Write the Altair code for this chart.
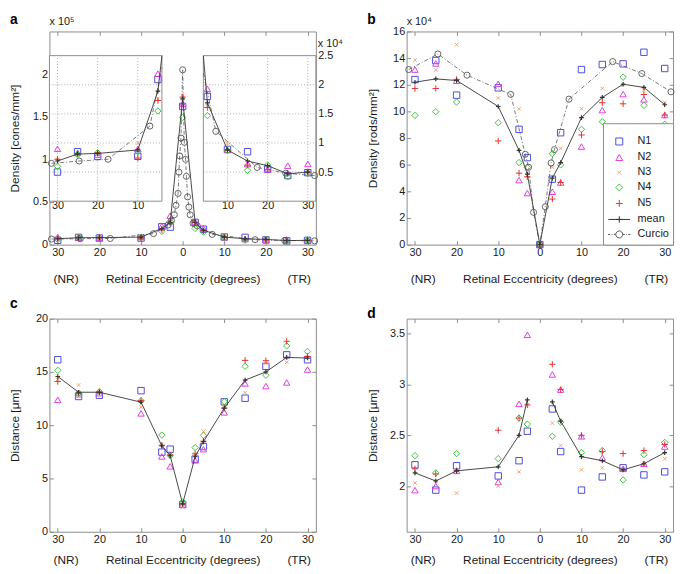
import altair as alt
import pandas as pd

# ---------------- data ----------------
ECC = [-30, -25, -20, -10, -5, -3, 0, 3, 5, 10, 15, 20, 25, 30]
ECC_D = [-30, -25, -20, -10, -5, -3, 3, 5, 10, 15, 20, 25, 30]
SERIES = ["N1", "N2", "N3", "N4", "N5"]

# (a) cone density, units of 10^4 cones/mm^2
A_N1 = [0.50, 0.85, 0.77, 0.77, 2.09, 2.05, 16.2, 2.6, 1.80, 0.89, 0.85, 0.55, 0.44, 0.49]
A_N2 = [0.90, 0.83, 0.80, 0.90, 2.19, 3.4, 16.5, 2.7, 1.93, 0.88, 0.64, 0.55, 0.61, 0.64]
A_N3 = [0.72, 0.80, 0.85, 1.00, 1.75, 2.6, 17.5, 2.5, 1.63, 1.00, 0.60, 0.60, 0.46, 0.50]
A_N4 = [0.60, 0.80, 0.83, 0.85, 1.55, 2.7, 14.9, 1.9, 1.47, 0.87, 0.53, 0.62, 0.42, 0.48]
A_N5 = [0.72, 0.82, 0.83, 0.74, 1.73, 2.5, 17.3, 2.6, 1.61, 0.88, 0.62, 0.54, 0.48, 0.50]
A_MEAN = [0.69, 0.81, 0.82, 0.88, 1.89, 2.6, 17.1, 2.6, 1.69, 0.88, 0.69, 0.61, 0.47, 0.50]
A_CUR_ECC = [-31.5, -24.6, -17.4, -7.0, -3.5, -2.7, -2.0, -1.6, -1.1, -0.9, -0.7, -0.4, 0.0,
             0.4, 0.7, 0.9, 1.2, 1.5, 1.8, 2.5, 3.5, 7.1, 17.4, 24.5, 31.7]
A_CUR = [0.65, 0.69, 0.72, 1.29, 2.3, 2.8, 3.5, 4.6, 6.0, 8.5, 10.4, 12.5, 20.5,
         12.0, 10.0, 8.0, 5.6, 4.4, 3.5, 2.5, 2.2, 1.2, 0.58, 0.48, 0.44]

# (b) rod density, units of 10^4 rods/mm^2
B_N1 = [12.39, 13.82, 11.22, 11.77, 8.65, 6.53, 0, 4.91, 8.40, 13.14, 13.52, 13.57, 14.44, 13.22]
B_N2 = [13.14, 13.60, 12.30, 12.07, 4.84, 3.87, 0, 3.97, 4.66, 7.36, 10.10, 11.30, 10.90, 9.73]
B_N3 = [13.84, 13.10, 15.01, 11.00, 10.20, 5.16, 0, 5.82, 7.23, 10.20, 11.72, 12.00, 11.60, 10.67]
B_N4 = [9.70, 9.98, 10.70, 9.15, 6.16, 5.80, 0, 6.83, 5.99, 8.65, 9.23, 12.57, 10.45, 9.03]
B_N5 = [11.72, 11.72, 12.40, 7.78, 5.36, 5.09, 0, 3.42, 4.66, 8.23, 10.65, 10.57, 11.27, 9.73]
B_MEAN = [12.19, 12.44, 12.32, 10.37, 7.08, 5.29, 0, 4.99, 6.16, 9.53, 11.05, 12.04, 11.80, 10.50]
B_CUR_ECC = [-31.5, -24.5, -17.5, -7.0, -3.5, -2.7, -1.5, 0.0, 1.3, 2.7, 3.5, 7.0, 17.5, 24.5, 31.5]
B_CUR = [13.14, 14.31, 12.72, 11.27, 6.78, 5.81, 2.42, 0.0, 2.84, 6.13, 7.13, 10.92, 13.74, 12.84, 11.47]

# (c) distance, um
C_N1 = [16.14, 12.69, 12.81, 13.24, 7.47, 7.75, 2.56, 6.82, 7.99, 12.19, 12.53, 15.52, 16.60, 16.14]
C_N2 = [12.38, 12.90, 13.00, 11.11, 7.07, 6.14, 2.56, 6.70, 7.75, 11.20, 13.92, 13.67, 14.01, 15.22]
C_N3 = [14.30, 13.77, 13.10, 11.70, 8.20, 7.10, 2.31, 7.30, 9.41, 11.90, 13.06, 15.80, 15.90, 16.40]
C_N4 = [15.15, 13.00, 13.15, 12.30, 9.07, 7.16, 2.80, 7.90, 9.04, 12.20, 15.52, 14.69, 17.44, 16.91]
C_N5 = [14.10, 13.00, 13.10, 12.30, 8.12, 7.20, 2.60, 7.31, 8.50, 11.60, 16.08, 16.05, 17.87, 16.45]
C_MEAN = [14.57, 13.09, 13.09, 12.16, 8.06, 7.13, 2.62, 7.04, 8.46, 11.60, 14.23, 15.00, 16.36, 16.30]

# (d) distance, um (no foveal centre value)
D_N1 = [2.21, 1.96, 2.20, 2.10, 2.25, 2.54, 2.76, 2.34, 1.96, 2.09, 2.18, 2.11, 2.14]
D_N2 = [1.96, 2.00, 2.15, 2.04, 2.81, 3.49, 3.10, 2.95, 2.49, 2.28, 2.17, 2.22, 2.39]
D_N3 = [2.03, 2.05, 1.93, 2.00, 2.14, 2.80, 2.62, 2.40, 2.16, 2.18, 2.17, 2.22, 2.27]
D_N4 = [2.30, 2.13, 2.32, 2.27, 2.67, 2.61, 2.49, 2.63, 2.33, 2.35, 2.06, 2.31, 2.43]
D_N5 = [2.17, 2.12, 2.15, 2.55, 2.67, 2.80, 3.20, 2.95, 2.50, 2.34, 2.32, 2.35, 2.41]
D_MEAN = [2.13, 2.05, 2.15, 2.19, 2.50, 2.85, 2.83, 2.64, 2.29, 2.25, 2.16, 2.22, 2.33]

X_TICKS = [-30, -20, -10, 0, 10, 20, 30]
SIDE_LABELS = ["(NR)", "(TR)"]
SIDE_POS = [-28, 28]

# ---------------- style ----------------
FONT = "Liberation Sans"
TXT = "#1a1a1a"
FRAME = "#8c8c8c"
GRID = "#9a9a9a"
W, H = 270, 216
MEAN_C = "#333333"
CUR_C = "#555555"

XPATH = "M-0.55,-0.55L0.55,0.55M-0.55,0.55L0.55,-0.55"
PLUS = "M-1,0H1M0,-1V1"
MEAN_LEG = "M-3.1,0H3.1M-0.9,0H0.9M0,-0.9V0.9"
CUR_LEG = ("M-3.2,0H-2.6M-2.2,0H-2M-1.6,0H-1"
           "M1,0A1,1,0,1,1,-1,0A1,1,0,1,1,1,0"
           "M1,0H1.6M2,0H2.2M2.6,0H3.2")
LEG_DOMAIN = SERIES + ["mean", "Curcio"]
LEG_COLORS = ["#4d4dd9", "#e03ee0", "#f5a36b", "#3fc23f", "#e63232", MEAN_C, CUR_C]
LEG_SHAPES = ["square", "triangle-up", XPATH, "diamond", PLUS, MEAN_LEG, CUR_LEG]

INWARD = {"expr": "-4"}


def long_df(ecc, cols):
    return pd.DataFrame([{"ecc": e, "v": v, "s": s}
                         for s, vals in zip(SERIES, cols) for e, v in zip(ecc, vals)])


def one_df(ecc, vals):
    return pd.DataFrame({"ecc": ecc, "v": vals,
                         "side": ["n" if e < 0 else "t" for e in ecc]})


class Enc:
    """Encodings sharing one x scale/axis and one y scale/axis."""

    def __init__(self, xs, xa, ys, ya):
        self.xs, self.xa, self.ys, self.ya = xs, xa, ys, ya

    def X(self):
        return alt.X("ecc:Q", scale=self.xs, axis=self.xa)

    def Y(self):
        return alt.Y("v:Q", scale=self.ys, axis=self.ya)

    def XD(self, v):
        return alt.XDatum(v, scale=self.xs, axis=self.xa)

    def YD(self, v):
        return alt.YDatum(v, scale=self.ys, axis=self.ya)


def x_axis_main(title_pad):
    return alt.Axis(values=X_TICKS, labelExpr="abs(datum.value)",
                    title="Retinal Eccentricity (degrees)", titlePadding=title_pad,
                    domain=False, grid=False, tickSize=INWARD, tickColor=FRAME,
                    labelPadding=6, orient="bottom")


def y_axis_main(title, values, label_expr="format(datum.value, '~g')"):
    return alt.Axis(values=values, labelExpr=label_expr, title=title,
                    domain=False, grid=False, tickSize=INWARD, tickColor=FRAME,
                    labelPadding=6, titleX=-28, orient="left")


def color_shape(legend):
    return dict(
        color=alt.Color("s:N", scale=alt.Scale(domain=LEG_DOMAIN, range=LEG_COLORS), legend=legend),
        shape=alt.Shape("s:N", scale=alt.Scale(domain=LEG_DOMAIN, range=LEG_SHAPES), legend=legend))


def series_layers(E, pts_df, mean_df, mean_pts_df, cur_line_df, cur_pts_df,
                  legend=None, split_mean=False):
    layers = []
    if cur_line_df is not None and len(cur_line_df):
        layers.append(alt.Chart(cur_line_df).mark_line(
            color=CUR_C, strokeWidth=0.8, strokeDash=[4, 2, 1, 2]).encode(x=E.X(), y=E.Y()))
    layers.append(alt.Chart(pts_df).mark_point(filled=False, size=42, strokeWidth=1, opacity=1).encode(
        x=E.X(), y=E.Y(), **color_shape(legend)))
    enc = dict(x=E.X(), y=E.Y())
    if split_mean:
        enc["detail"] = "side:N"
    layers.append(alt.Chart(mean_df).mark_line(color=MEAN_C, strokeWidth=0.9).encode(**enc))
    layers.append(alt.Chart(mean_pts_df).mark_point(shape=PLUS, filled=False, size=22, color=MEAN_C,
                                                    strokeWidth=1.2, opacity=1).encode(x=E.X(), y=E.Y()))
    if cur_pts_df is not None and len(cur_pts_df):
        layers.append(alt.Chart(cur_pts_df).mark_point(shape="circle", filled=False, size=38, color=CUR_C,
                                                       strokeWidth=0.9, opacity=1).encode(x=E.X(), y=E.Y()))
    return layers


def annotations(E, ymin, ymax, letter, letter_dy, side_dy, mult=None):
    side = alt.Chart(pd.DataFrame({"ecc": SIDE_POS, "t": SIDE_LABELS})).mark_text(
        dy=side_dy, fontSize=12, font=FONT, color=TXT, baseline="middle").encode(
        x=E.X(), y=E.YD(ymin), text="t:N")
    lab = alt.Chart(pd.DataFrame({"t": [letter]})).mark_text(
        dx=-40, dy=letter_dy, fontSize=14, fontWeight="bold", font=FONT, color="#000",
        align="left", baseline="middle").encode(x=E.XD(-32), y=E.YD(ymax), text="t:N")
    out = [side, lab]
    if mult:
        out.append(alt.Chart(pd.DataFrame({"t": [mult]})).mark_text(
            dy=-10, fontSize=11, font=FONT, color=TXT, align="left", baseline="middle").encode(
            x=E.XD(-32), y=E.YD(ymax), text="t:N"))
    return out


def box_ticks(ydom, yvals):
    """Inward tick marks on the top (and right) edges of the frame."""
    xs = alt.Scale(domain=[-32, 32], nice=False, zero=False)
    xa = alt.Axis(orient="top", values=X_TICKS, labels=False, domain=False, grid=False,
                  tickSize=INWARD, tickColor=FRAME, title=None)
    enc = dict(x=alt.XDatum(0, scale=xs, axis=xa))
    if yvals:
        ys = alt.Scale(domain=ydom, nice=False, zero=False)
        ya = alt.Axis(orient="right", values=yvals, labels=False, domain=False, grid=False,
                      tickSize=INWARD, tickColor=FRAME, title=None)
        enc["y"] = alt.YDatum(ydom[0], scale=ys, axis=ya)
    return alt.Chart(pd.DataFrame({"k": [0]})).mark_point(opacity=0).encode(**enc)


main_xs = alt.Scale(domain=[-32, 32], nice=False, zero=False)
TOP_PAD, BOT_PAD = 16, 10
TOP_SIDE, BOT_SIDE = 35, 29

# ---------------- panel a ----------------
Ea = Enc(main_xs, x_axis_main(TOP_PAD), alt.Scale(domain=[0, 25], nice=False, zero=True),
         y_axis_main("Density [cones/mm²]", [0, 5, 10, 15, 20], "format(datum.value / 10, '~g')"))
a_pts = long_df(ECC, [A_N1, A_N2, A_N3, A_N4, A_N5])
a_mean = one_df(ECC, A_MEAN)
a_cur = one_df(A_CUR_ECC, A_CUR)
a_main = alt.layer(*series_layers(Ea, a_pts, a_mean, a_mean, a_cur, a_cur),
                   *annotations(Ea, 0, 25, "a", -12, TOP_SIDE, "x 10⁵"))

INSET_TOP, INSET_BOT = 24.5, 172


def inset(xdom, xrange, xvals, right_axis, line_sel, cur_sel):
    xs = alt.Scale(domain=xdom, range=xrange, nice=False, zero=False, clamp=True)
    ys = alt.Scale(domain=[0, 2.5], range=[INSET_BOT, INSET_TOP], nice=False, zero=False, clamp=True)
    xax = alt.Axis(orient="bottom", offset=-(H - INSET_BOT), values=xvals,
                   labelExpr="abs(datum.value)", title=None, domain=False, ticks=False,
                   grid=False, labelPadding={"expr": "-2"})
    if right_axis:
        yax = alt.Axis(orient="right", values=[0.5, 1, 1.5, 2, 2.5],
                       labelExpr="format(datum.value, '~g')", title=None, domain=False,
                       grid=False, tickSize=INWARD, tickColor=FRAME, labelPadding=6)
    else:
        yax = None
    E = Enc(xs, xax, ys, yax)
    one = pd.DataFrame({"k": [0]})
    frame = alt.Chart(one).mark_rect(fill="white", stroke=FRAME, strokeWidth=1).encode(
        x=E.XD(xdom[0]), x2=alt.X2Datum(xdom[1]), y=E.YD(0), y2=alt.Y2Datum(2.5))
    gv = alt.Chart(pd.DataFrame({"ecc": xvals})).mark_rule(
        color=GRID, strokeDash=[1, 2], strokeWidth=0.8).encode(
        x=E.X(), y=E.YD(0), y2=alt.Y2Datum(2.5))
    gh = alt.Chart(pd.DataFrame({"v": [0.5, 1, 1.5, 2]})).mark_rule(
        color=GRID, strokeDash=[1, 2], strokeWidth=0.8).encode(
        y=E.Y(), x=E.XD(xdom[0]), x2=alt.X2Datum(xdom[1]))
    lo, hi = xdom

    def inside(df):
        return df[(df.ecc >= lo) & (df.ecc <= hi) & (df.v <= 2.5)]

    layers = [frame, gv, gh] + series_layers(
        E, inside(a_pts), a_mean[line_sel(a_mean.ecc)], inside(a_mean),
        a_cur[cur_sel(a_cur.ecc)], inside(a_cur))
    if right_axis:
        layers.append(alt.Chart(pd.DataFrame({"t": ["x 10⁴"]})).mark_text(
            dx=2, dy=-12, fontSize=11, font=FONT, color=TXT, align="left", baseline="middle").encode(
            x=E.XD(xdom[1]), y=E.YD(2.5), text="t:N"))
    return alt.layer(*layers)


a_left = inset([-32, -4], [0, 114], [-30, -20, -10], False,
               lambda e: e <= -3, lambda e: e <= -3.5)
a_right = inset([4, 32], [156, W], [10, 20, 30], True,
                lambda e: e >= 3, lambda e: e >= 3.5)

panel_a = alt.layer(a_main, a_left, a_right, box_ticks([0, 25], None)).resolve_scale(
    x="independent", y="independent").properties(width=W, height=H)

# ---------------- panel b ----------------
Eb = Enc(main_xs, x_axis_main(TOP_PAD), alt.Scale(domain=[0, 16], nice=False, zero=True),
         y_axis_main("Density [rods/mm²]", list(range(0, 17, 2))))
legend_b = alt.Legend(title=" ", titleFontSize=7, titlePadding=2,
                      orient="bottom-right", offset=0, padding=4,
                      fillColor="white", strokeColor=FRAME, symbolSize=50,
                      symbolStrokeWidth=1, symbolOffset=7, labelOffset=13, rowPadding=3.2,
                      labelFontSize=11, labelFont=FONT, labelColor=TXT)
b_mean = one_df(ECC, B_MEAN)
b_cur = one_df(B_CUR_ECC, B_CUR)
b_main = alt.layer(
    *series_layers(Eb, long_df(ECC, [B_N1, B_N2, B_N3, B_N4, B_N5]), b_mean, b_mean,
                   b_cur, b_cur, legend=legend_b),
    *annotations(Eb, 0, 16, "b", -12, TOP_SIDE, "x 10⁴"))
panel_b = alt.layer(b_main, box_ticks([0, 16], list(range(0, 17, 2)))).resolve_scale(
    x="independent", y="independent").properties(width=W, height=H)

# ---------------- panel c ----------------
Ec = Enc(main_xs, x_axis_main(BOT_PAD), alt.Scale(domain=[0, 20], nice=False, zero=True),
         y_axis_main("Distance [μm]", [0, 5, 10, 15, 20]))
c_mean = one_df(ECC, C_MEAN)
c_main = alt.layer(
    *series_layers(Ec, long_df(ECC, [C_N1, C_N2, C_N3, C_N4, C_N5]), c_mean, c_mean, None, None),
    *annotations(Ec, 0, 20, "c", -15, BOT_SIDE))
panel_c = alt.layer(c_main, box_ticks([0, 20], [0, 5, 10, 15, 20])).resolve_scale(
    x="independent", y="independent").properties(width=W, height=H)

# ---------------- panel d ----------------
Ed = Enc(main_xs, x_axis_main(BOT_PAD), alt.Scale(domain=[1.55, 3.65], nice=False, zero=False),
         y_axis_main("Distance [μm]", [2, 2.5, 3, 3.5]))
d_mean = one_df(ECC_D, D_MEAN)
d_main = alt.layer(
    *series_layers(Ed, long_df(ECC_D, [D_N1, D_N2, D_N3, D_N4, D_N5]), d_mean, d_mean, None, None,
                   split_mean=True),
    *annotations(Ed, 1.55, 3.65, "d", -5, BOT_SIDE))
panel_d = alt.layer(d_main, box_ticks([1.55, 3.65], [2, 2.5, 3, 3.5])).resolve_scale(
    x="independent", y="independent").properties(width=W, height=H)

chart = alt.concat(panel_a, panel_b, panel_c, panel_d, columns=2,
                   spacing={"row": 10, "column": 21}).resolve_scale(
    color="independent", shape="independent").resolve_legend(
    color="independent", shape="independent").properties(padding=0).configure(
    font=FONT).configure_view(stroke=FRAME, strokeWidth=1).configure_axis(
    labelFont=FONT, titleFont=FONT, labelFontSize=11, titleFontSize=12,
    labelColor=TXT, titleColor=TXT, titleFontWeight="normal")

chart.save("out.html", embed_options={"renderer": "svg", "actions": False})
